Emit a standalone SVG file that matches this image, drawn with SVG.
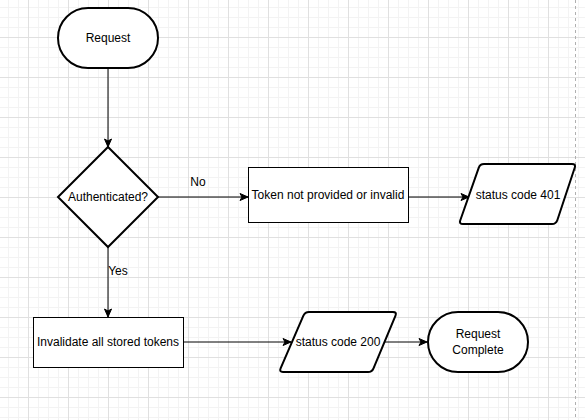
<svg xmlns="http://www.w3.org/2000/svg" width="585" height="420" viewBox="0 0 585 420">
<style>
.shape{fill:#fff;stroke:#000;stroke-width:2}
.box{fill:#fff;stroke:#000;stroke-width:1}
.edge{fill:none;stroke:#000;stroke-width:1}
text{font-family:"Liberation Sans",Arial,sans-serif;font-size:12px;fill:#000;text-anchor:middle;dominant-baseline:central}
</style>
<defs>
<pattern id="minor" patternUnits="userSpaceOnUse" x="8" y="7" width="10" height="10">
<path d="M0.5,0 V10 M0,0.5 H10" stroke="#f3f3f3" stroke-width="1" fill="none"/>
</pattern>
<pattern id="major" patternUnits="userSpaceOnUse" x="28" y="37" width="40" height="40">
<path d="M0.5,0 V40 M0,0.5 H40" stroke="#e0e0e0" stroke-width="1" fill="none"/>
</pattern>
<marker id="arrow" markerUnits="userSpaceOnUse" markerWidth="10" markerHeight="10" viewBox="0 0 10 10" refX="9" refY="5" orient="auto">
<path d="M1,1.5 L9,5 L1,8.5 L3,5 Z" fill="#000" stroke="#000" stroke-width="1"/>
</marker>
</defs>
<rect width="585" height="420" fill="#fff"/>
<rect width="585" height="420" fill="url(#minor)"/>
<rect width="585" height="420" fill="url(#major)"/>
<line x1="575.5" y1="0" x2="575.5" y2="420" stroke="#b0b0b0" stroke-width="1" stroke-dasharray="3,3"/>
<g id="connectors">
<path class="edge" d="M108,68 V147" marker-end="url(#arrow)"/>
<path class="edge" d="M158,197 H248" marker-end="url(#arrow)"/>
<path class="edge" d="M408,197 H469" marker-end="url(#arrow)"/>
<path class="edge" d="M108,247 V317" marker-end="url(#arrow)"/>
<path class="edge" d="M183,342 H291" marker-end="url(#arrow)"/>
<path class="edge" d="M385,342 H427" marker-end="url(#arrow)"/>
<text x="198" y="182">No</text>
<text x="118" y="271">Yes</text>
</g>
<g id="request">
<rect class="shape" x="58" y="8" width="100" height="60" rx="30" ry="30"/>
<text x="108" y="38">Request</text>
</g>
<g id="authenticated">
<path class="shape" d="M108,147 L158,197 L108,247 L58,197 Z"/>
<text x="108" y="197">Authenticated?</text>
</g>
<g id="token-invalid">
<rect class="box" x="248.5" y="167.5" width="160" height="55"/>
<text x="328" y="195">Token not provided or invalid</text>
</g>
<g id="status-401">
<path class="shape" d="M484,164 L572,164 Q576,164 574.7,167.8 L557.3,220.2 Q556,224 552,224 L463,224 Q459,224 460.3,220.2 L478.7,167.8 Q480,164 484,164 Z"/>
<text x="518" y="195">status code 401</text>
</g>
<g id="invalidate">
<rect class="box" x="33.5" y="317.5" width="150" height="50"/>
<text x="108" y="342">Invalidate all stored tokens</text>
</g>
<g id="status-200">
<path class="shape" d="M309,312 L393,312 Q397,312 395.5,315.7 L373.5,368.3 Q372,372 368,372 L283,372 Q279,372 280.6,368.3 L303.4,315.7 Q305,312 309,312 Z"/>
<text x="338" y="342">status code 200</text>
</g>
<g id="request-complete">
<rect class="shape" x="428" y="312" width="100" height="60" rx="30" ry="30"/>
<text x="478" y="334">Request</text>
<text x="478" y="350">Complete</text>
</g>
</svg>
